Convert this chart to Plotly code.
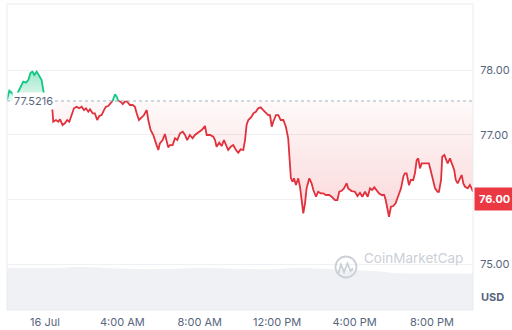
import numpy as np
import pandas as pd
import plotly.graph_objects as go

# ---------------- data ----------------
ref_price = 77.5216
current_label = "76.00"

hours = [-1.96, -1.84, -1.72, -1.55, -1.38, -1.20, -1.12, -0.98, -0.86, -0.74,
         -0.64, -0.55, -0.43, -0.35, -0.26, -0.17, -0.09, -0.05, 0.16, 0.38,
         0.43, 0.57, 0.69, 0.78, 0.91, 1.03, 1.15, 1.26, 1.38, 1.50,
         1.64, 1.77, 1.90, 2.02, 2.12, 2.24, 2.33, 2.47, 2.58, 2.70,
         2.81, 2.93, 3.05, 3.15, 3.27, 3.40, 3.50, 3.62, 3.71, 3.79,
         3.91, 4.02, 4.13, 4.25, 4.39, 4.53, 4.65, 4.74, 4.86, 5.00,
         5.12, 5.26, 5.34, 5.46, 5.60, 5.74, 5.86, 5.94, 6.08, 6.20,
         6.29, 6.37, 6.46, 6.60, 6.72, 6.84, 6.98, 7.12, 7.24, 7.35,
         7.49, 7.63, 7.75, 7.92, 8.10, 8.27, 8.36, 8.53, 8.70, 8.79,
         8.87, 9.01, 9.13, 9.25, 9.35, 9.47, 9.60, 9.73, 9.87, 9.99,
         10.11, 10.25, 10.34, 10.42, 10.51, 10.68, 10.77, 10.90, 11.02, 11.15,
         11.28, 11.42, 11.54, 11.63, 11.72, 11.80, 11.94, 12.06, 12.18, 12.32,
         12.45, 12.57, 12.66, 12.71, 12.80, 12.87, 12.97, 13.09, 13.18, 13.27,
         13.35, 13.44, 13.52, 13.66, 13.78, 13.87, 14.01, 14.12, 14.25, 14.38,
         14.52, 14.69, 14.82, 14.99, 15.11, 15.21, 15.33, 15.45, 15.59, 15.67,
         15.85, 16.02, 16.15, 16.28, 16.40, 16.54, 16.68, 16.80, 16.91, 17.02,
         17.14, 17.26, 17.40, 17.53, 17.61, 17.71, 17.78, 17.88, 18.00, 18.12,
         18.26, 18.40, 18.52, 18.60, 18.69, 18.81, 18.91, 19.03, 19.12, 19.21,
         19.29, 19.38, 19.47, 19.60, 19.73, 19.84, 19.95, 20.07, 20.16, 20.29,
         20.36, 20.47, 20.53, 20.64, 20.71, 20.81, 20.93, 21.05, 21.15, 21.23,
         21.33, 21.45, 21.54, 21.62, 21.71, 21.85, 21.96, 22.05, 22.12]

prices = [77.536, 77.680, 77.649, 77.582, 77.664, 77.768, 77.819, 77.804, 77.845, 77.958,
          77.974, 77.923, 77.974, 77.938, 77.896, 77.845, 77.691, 77.640, 77.490, 77.408,
          77.200, 77.227, 77.200, 77.237, 77.149, 77.176, 77.227, 77.200, 77.304, 77.408,
          77.432, 77.408, 77.432, 77.381, 77.408, 77.355, 77.392, 77.330, 77.330, 77.227,
          77.289, 77.304, 77.381, 77.432, 77.443, 77.485, 77.525, 77.624, 77.587, 77.525,
          77.510, 77.474, 77.510, 77.510, 77.459, 77.459, 77.432, 77.330, 77.227, 77.268,
          77.304, 77.381, 77.227, 77.072, 76.995, 76.866, 76.763, 76.866, 76.917, 77.010,
          76.917, 76.804, 76.840, 76.840, 76.944, 76.917, 77.021, 77.046, 76.995, 76.917,
          76.995, 76.944, 76.995, 77.030, 77.072, 77.134, 76.995, 76.995, 76.968, 76.917,
          76.814, 76.876, 76.824, 76.917, 76.840, 76.763, 76.814, 76.840, 76.763, 76.721,
          76.773, 76.763, 76.917, 77.149, 77.227, 77.278, 77.330, 77.355, 77.408, 77.423,
          77.381, 77.340, 77.304, 77.304, 77.123, 77.200, 77.304, 77.304, 77.227, 77.227,
          77.123, 76.944, 76.608, 76.325, 76.272, 76.325, 76.221, 76.325, 76.195, 75.989,
          75.783, 75.938, 76.170, 76.325, 76.247, 76.144, 76.040, 76.118, 76.093, 76.093,
          76.067, 76.067, 76.040, 75.989, 75.989, 76.118, 76.133, 76.170, 76.247, 76.170,
          76.128, 76.118, 76.051, 76.102, 76.040, 76.118, 76.040, 76.170, 76.144, 76.186,
          76.144, 76.093, 76.067, 76.067, 75.989, 75.835, 75.731, 75.886, 75.896, 75.938,
          76.040, 76.170, 76.350, 76.402, 76.402, 76.221, 76.299, 76.299, 76.402, 76.608,
          76.634, 76.479, 76.557, 76.557, 76.557, 76.557, 76.427, 76.299, 76.170, 76.118,
          76.118, 76.299, 76.659, 76.685, 76.634, 76.557, 76.634, 76.531, 76.453, 76.299,
          76.247, 76.325, 76.376, 76.247, 76.195, 76.170, 76.221, 76.170, 76.118]

vol_hours = [-1.96, 0.78, 1.65, 4.55, 6.30, 8.00, 11.50, 13.20, 14.90, 17.30, 18.30, 20.40, 21.80, 22.12]
volume = [13.7, 13.7, 14.05, 13.4, 13.4, 13.7, 13.3, 13.7, 13.3, 12.6, 12.0, 11.9, 11.9, 11.9]

x_tick_hours = [0, 4, 8, 12, 16, 20]
x_tick_labels = ["16 Jul", "4:00 AM", "8:00 AM", "12:00 PM", "4:00 PM", "8:00 PM"]
y_tick_vals = [75, 76, 77, 78]
y_tick_labels = ["75.00", "76.00", "77.00", "78.00"]

# ---------------- helpers ----------------
day0 = pd.Timestamp("2024-07-16")


def to_time(h):
    return day0 + pd.to_timedelta(np.asarray(h, dtype=float), unit="h")


h = np.array(hours, dtype=float)
p = np.array(prices, dtype=float)
seg_h, seg_p = [h[0]], [p[0]]
for i in range(1, len(h)):
    a, b = p[i - 1] - ref_price, p[i] - ref_price
    if a * b < 0:
        t = a / (a - b)
        seg_h.append(h[i - 1] + t * (h[i] - h[i - 1]))
        seg_p.append(ref_price)
    seg_h.append(h[i])
    seg_p.append(p[i])
sh = np.array(seg_h)
sp = np.array(seg_p)
above = np.maximum(sp, ref_price)
below = np.minimum(sp, ref_price)
green_line = np.where(sp >= ref_price - 1e-9, sp, np.nan)
red_line = np.where(sp <= ref_price + 1e-9, sp, np.nan)
tx = to_time(sh)
base = np.full_like(sp, ref_price)

GREEN = "#16c784"
RED = "#e0313c"
FONT = "Inter"
GRAY = "#58667e"
WM = "#cbd0d7"

fig = go.Figure()

# volume area
fig.add_trace(go.Scatter(x=to_time(vol_hours), y=volume, yaxis="y2", mode="lines",
                         line=dict(width=0, shape="spline"), fill="tozeroy",
                         fillcolor="#eff1f4", hoverinfo="skip", showlegend=False))

# green fill
fig.add_trace(go.Scatter(x=tx, y=base, mode="lines", line=dict(width=0),
                         hoverinfo="skip", showlegend=False))
fig.add_trace(go.Scatter(x=tx, y=above, mode="lines", line=dict(width=0),
                         fill="tonexty",
                         fillgradient=dict(type="vertical", start=ref_price, stop=78.0,
                                           colorscale=[[0, "rgba(22,199,132,0.10)"],
                                                       [1, "rgba(22,199,132,0.42)"]]),
                         hoverinfo="skip", showlegend=False))
# red fill
fig.add_trace(go.Scatter(x=tx, y=base, mode="lines", line=dict(width=0),
                         hoverinfo="skip", showlegend=False))
fig.add_trace(go.Scatter(x=tx, y=below, mode="lines", line=dict(width=0),
                         fill="tonexty",
                         fillgradient=dict(type="vertical", start=75.7, stop=ref_price,
                                           colorscale=[[0, "rgba(234,57,67,0.20)"],
                                                       [1, "rgba(234,57,67,0.03)"]]),
                         hoverinfo="skip", showlegend=False))
# lines
fig.add_trace(go.Scatter(x=tx, y=green_line, mode="lines",
                         line=dict(color=GREEN, width=1.8), showlegend=False))
fig.add_trace(go.Scatter(x=tx, y=red_line, mode="lines",
                         line=dict(color=RED, width=1.8), showlegend=False))

W, H = 512, 330
ml, mr, mt, mb = 7, 39, 4, 20
pw, ph = W - ml - mr, H - mt - mb


def px_x(x):
    return (x - ml) / pw


def px_y(y):
    return (H - mb - y) / ph


fig.update_layout(
    width=W, height=H,
    margin=dict(l=ml, r=mr, t=mt, b=mb, autoexpand=False),
    paper_bgcolor="white", plot_bgcolor="white",
    font=dict(family=FONT, size=11, color=GRAY),
    xaxis=dict(range=[to_time(hours[0]), to_time(hours[-1])],
               tickvals=to_time(x_tick_hours), ticktext=x_tick_labels,
               showgrid=False, zeroline=False, showline=False, automargin=False,
               ticks="outside", ticklen=2, tickcolor="rgba(0,0,0,0)",
               tickfont=dict(size=11, color=GRAY)),
    yaxis=dict(range=[74.289, 79.021], side="right",
               tickvals=y_tick_vals, ticktext=y_tick_labels,
               showgrid=True, gridcolor="#eef0f3", gridwidth=1,
               zeroline=False, showline=False, automargin=False,
               ticks="outside", ticklen=4, tickcolor="rgba(0,0,0,0)",
               tickfont=dict(size=11, color=GRAY)),
    yaxis2=dict(range=[0, 100], overlaying="y", visible=False, automargin=False),
    showlegend=False,
)

# reference dotted line
fig.add_shape(type="line", xref="paper", yref="y", x0=0, x1=1, y0=ref_price, y1=ref_price,
              line=dict(color="#a6b0c3", width=1, dash="dot"))
# border box
fig.add_shape(type="rect", xref="paper", yref="paper", x0=0, x1=1, y0=0, y1=1,
              line=dict(color="#e8ebef", width=1))

# reference price label
fig.add_annotation(x=px_x(12), xref="paper", y=ref_price, yref="y", xanchor="left",
                   text="77.5216", showarrow=False, bgcolor="white", borderpad=1,
                   font=dict(size=11, color=GRAY))
# current price label
fig.add_annotation(x=1, xref="paper", y=76.0, yref="y", xanchor="left", xshift=1,
                   text="<b>" + current_label + "</b>", showarrow=False, bgcolor="#ea3943",
                   borderpad=4, font=dict(size=11, color="white"))
# USD
fig.add_annotation(x=px_x(506), xref="paper", y=px_y(306), yref="paper", xanchor="right",
                   text="<b>USD</b>", showarrow=False, font=dict(size=11, color=GRAY))

# watermark logo
fig.add_shape(type="circle", xref="paper", yref="paper",
              x0=px_x(335.5), x1=px_x(356.5), y0=px_y(277.5), y1=px_y(256.5),
              line=dict(color=WM, width=1.8))
wave = [(338.5, 273), (341, 264.5), (344, 272), (347.5, 263.5), (350.5, 271), (353, 268.5)]
path = "M " + " L ".join(f"{px_x(a):.5f},{px_y(b):.5f}" for a, b in wave)
fig.add_shape(type="path", xref="paper", yref="paper", path=path,
              line=dict(color=WM, width=1.8))
fig.add_annotation(x=px_x(362), xref="paper", y=px_y(267.5), yref="paper", xanchor="left",
                   text="CoinMarketCap", showarrow=False,
                   font=dict(size=13.5, color=WM, family=FONT))

fig.write_html("out.html")
